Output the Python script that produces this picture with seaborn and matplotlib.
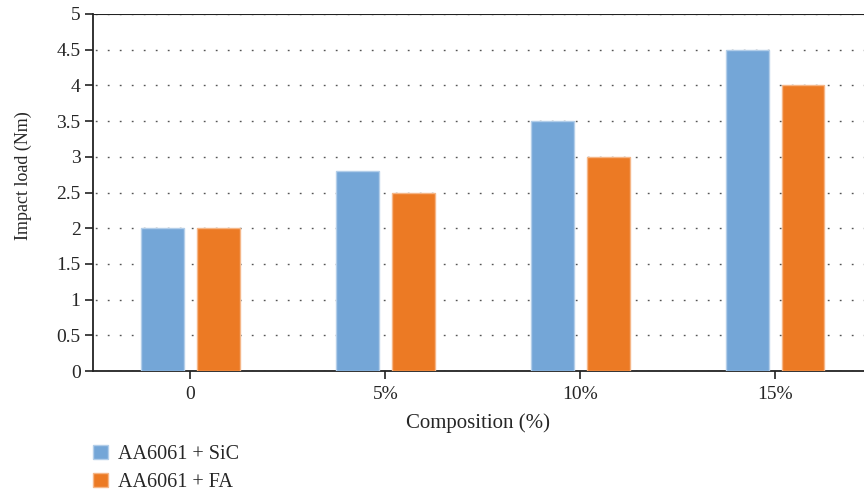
import pandas as pd
import seaborn as sns
import matplotlib.pyplot as plt
from matplotlib.colors import to_rgb

compositions = ["0", "5%", "10%", "15%"]
sic_load = [2.0, 2.8, 3.5, 4.5]
fa_load = [2.0, 2.5, 3.0, 4.0]
series_names = ["AA6061 + SiC", "AA6061 + FA"]

df = pd.DataFrame({
    "Composition": compositions * 2,
    "Impact": sic_load + fa_load,
    "Series": [series_names[0]] * 4 + [series_names[1]] * 4,
})

sns.set_style("white")
plt.rcParams["font.family"] = ["Liberation Serif", "DejaVu Serif"]

fig = plt.figure(figsize=(8.64, 4.92), dpi=100)
ax = fig.add_axes([93 / 864, 1 - 371 / 492, 1 - 93 / 864, (371 - 14) / 492])

sns.barplot(data=df, x="Composition", y="Impact", hue="Series",
            palette=["#74A6D7", "#EC7A24"], width=0.565, gap=0.22,
            saturation=1, ax=ax, legend=True, zorder=3)

# light outline around each bar
for p in ax.patches:
    r, g, b = to_rgb(p.get_facecolor())
    p.set_edgecolor((r + (1 - r) * 0.45, g + (1 - g) * 0.45, b + (1 - b) * 0.45))
    p.set_linewidth(1.0)

ax.set_xlim(-0.5, 3.454)
ax.set_ylim(0, 5)
ax.set_yticks([i * 0.5 for i in range(11)])
ax.set_yticklabels(["0", "0.5", "1", "1.5", "2", "2.5", "3", "3.5", "4", "4.5", "5"])
ax.yaxis.grid(True, linestyle=(7, (1.3, 7.34)), color="#555555", linewidth=1.0, zorder=0)
ax.axhline(5, color="#222222", linewidth=1.5, zorder=4)

for side in ["top", "right"]:
    ax.spines[side].set_visible(False)
for side in ["left", "bottom"]:
    ax.spines[side].set_color("#222222")
    ax.spines[side].set_linewidth(1.3)

ax.tick_params(axis="y", direction="out", length=6, width=1.2, color="#222222",
               labelsize=14, left=True, pad=3)
ax.tick_params(axis="x", direction="out", length=6, width=1.2, color="#222222",
               labelsize=14, bottom=True, pad=5)
ax.set_xlabel("Composition (%)", fontsize=15, labelpad=7)
ax.set_ylabel("Impact load (Nm)", fontsize=13)
ax.yaxis.set_label_coords(-0.079, 0.546)

handles, labels = ax.get_legend_handles_labels()
ax.get_legend().remove()
fig.legend(handles, labels, loc="lower left", bbox_to_anchor=(0.1076, 0.0),
           frameon=False, fontsize=14.5, handlelength=0.75, handleheight=0.75,
           handletextpad=0.5, labelspacing=0.42, borderpad=0, borderaxespad=0)

fig.savefig("out.png", dpi=100)
